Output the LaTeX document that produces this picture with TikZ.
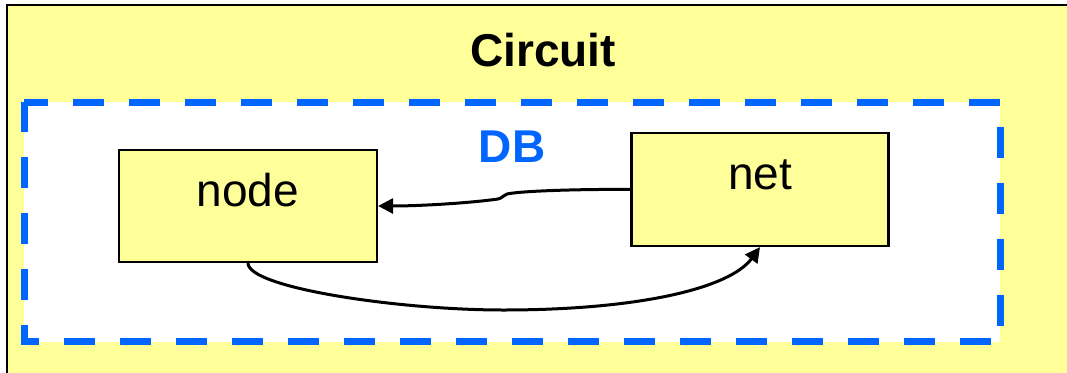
\documentclass[tikz,border=0pt]{standalone}
\usepackage{fontspec}
\setmainfont{Liberation Sans}
\usetikzlibrary{arrows.meta}
\definecolor{padyellow}{HTML}{FFFF99}
\definecolor{dbblue}{HTML}{0066FF}
\begin{document}
\begin{tikzpicture}[x=1pt,y=-1pt,
  box/.style={draw=black, line width=2.2pt, fill=padyellow, inner sep=0pt,
    text height=0pt, text depth=0pt, font=\fontsize{46}{50}\selectfont},
  link/.style={line width=3pt, -{Triangle[length=15pt,width=15pt]}},
  title/.style={font=\bfseries\fontsize{46}{50}\selectfont, anchor=base, inner sep=0pt}]
\useasboundingbox (0,0) rectangle (1067,372);
\clip (0,0) rectangle (1067,372);
\fill[white] (0,0) rectangle (1067,372);
% outer circuit frame
\draw[line width=2.4pt, fill=padyellow] (7,5) rectangle (1090,400);
% database area
\draw[dbblue, fill=white, line width=7pt, dash pattern=on 31pt off 25pt,
  dash phase=7pt] (24,102) -- (1000,102) -- (1000,341.5) -- (24,341.5) -- cycle;
\node[title] (circuit) at (543,66) {Circuit};
\node[title, text=dbblue] (db) at (512,162) {DB};
\node[box, minimum width=258pt, minimum height=112pt] (node) at (248,206) {node};
\node[box, minimum width=257pt, minimum height=113pt] (net) at (760,189.5) {net};
% connectors
\draw[link] (net.west) .. controls (580,189) and (520,191) .. (507,194)
  .. controls (503,195) and (503,198) .. (498,199)
  .. controls (470,203) and (420,206) .. (node.east);
\draw[link] (node.south) .. controls (248,288) and (400,310) .. (503,310)
  .. controls (640,310) and (730,288) .. (net.south);
\end{tikzpicture}
\end{document}
